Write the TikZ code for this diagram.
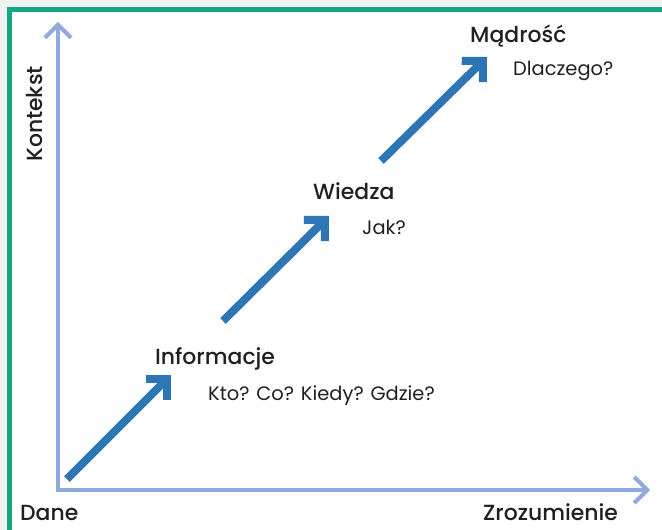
\documentclass[tikz,border=0pt]{standalone}
\usepackage{fontspec}
\setmainfont{Poppins}
\newfontfamily\medfont{Poppins Medium}
\usepackage{tikz}
\usetikzlibrary{arrows.meta,positioning,calc}
\definecolor{framegreen}{RGB}{20,168,130}
\definecolor{axisblue}{RGB}{143,170,220}
\definecolor{stairblue}{RGB}{46,117,182}
\definecolor{ink}{RGB}{35,31,32}

\begin{document}
\begin{tikzpicture}[x=1bp,y=-1bp,
  axis/.style={axisblue,line width=4bp,line join=miter},
  stair/.style={stairblue,line width=8bp,line join=miter,
    -{Straight Barb[length=15bp,width=30bp]}},
  head/.style={ink,inner sep=0pt,anchor=base west,font=\fontsize{22}{22}\selectfont\medfont},
  sub/.style={ink,inner sep=0pt,anchor=base west,font=\fontsize{19.5}{19.5}\selectfont}]
\useasboundingbox (0,0) rectangle (662,530);
\fill[gray!12] (0,0) rectangle (662,530);
\draw[framegreen,line width=5bp,fill=white] (9.5,9.5) rectangle (690,532);

% axes
\coordinate (ytip) at (58,22);
\coordinate (origin) at (58,490);
\coordinate (xtip) at (650,490);
\draw[axis,{Straight Barb[length=13bp,width=26bp]}-{Straight Barb[length=13bp,width=26bp]}]
  (ytip) -- (origin) -- (xtip);

% steps
\foreach \n/\sx/\sy/\ex/\ey in {1/67/479/171/375, 2/223/321/329/216, 3/381/161/487/57}{
  \coordinate (s\n) at (\sx,\sy);
  \coordinate (e\n) at (\ex,\ey);
  \draw[stair] (s\n) -- (e\n);
}

\node[head] (dane) at (20,520) {Dane};
\node[head] (zroz) at (483,520) {Zrozumienie};
\node[head,rotate=90,font=\fontsize{22}{22}\selectfont\medfont] (kontekst) at (42,162) {Kontekst};

\node[head] (info) at (155,364) {Informacje};
\node[sub] (infoq) at (208,400) {Kto? Co? Kiedy? Gdzie?};
\node[head] (wiedza) at (313,200) {Wiedza};
\node[sub] (wiedzaq) at (362,235) {Jak?};
\node[head] (madrosc) at (470,43) {Mądrość};
\node[sub] (madroscq) at (513,76) {Dlaczego?};
\end{tikzpicture}
\end{document}
